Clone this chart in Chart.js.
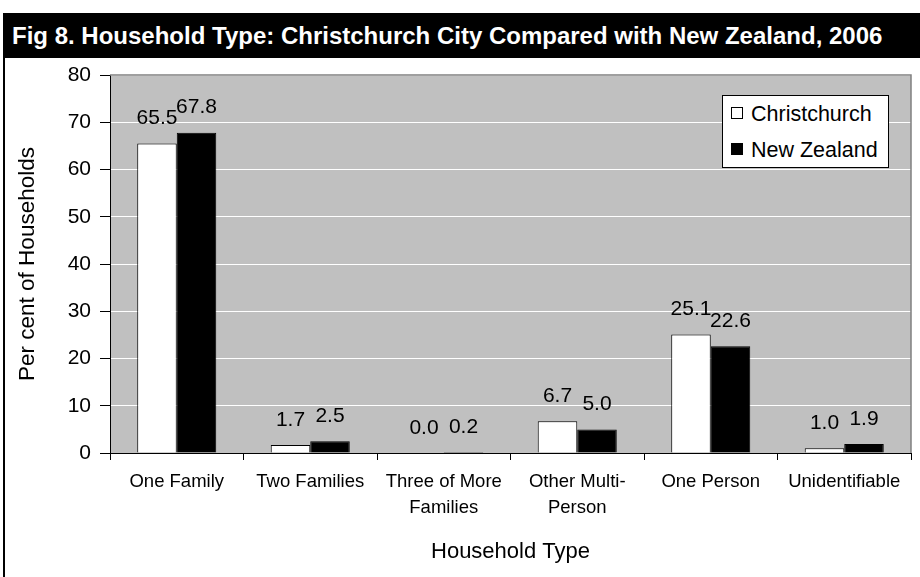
<!DOCTYPE html>
<html>
<head>
<meta charset="utf-8">
<script src="https://cdn.jsdelivr.net/npm/chart.js@4/dist/chart.umd.min.js"></script>
<style>
  html, body { margin: 0; padding: 0; background: #fff; }
  #wrap { position: relative; width: 920px; height: 577px; overflow: hidden; }
  #frameL { position: absolute; left: 3px; top: 13px; width: 2px; height: 600px; background: #000; }
  #title { position: absolute; left: 3px; top: 13px; width: 917px; height: 45px; background: #000; color: #fff;
           font: bold 24px "Liberation Sans", Arial, sans-serif; line-height: 45px; padding-left: 9px; box-sizing: border-box; white-space: nowrap; z-index: 2; }
  #c { position: absolute; left: 0; top: 0; }
  #legend { position: absolute; left: 722px; top: 95px; width: 167px; height: 73px; background: #fff; border: 1px solid #000;
            box-sizing: border-box; font: 21.5px "Liberation Sans", Arial, sans-serif; color: #000; z-index: 3; }
  .item { position: absolute; left: 8px; height: 24px; line-height: 24px; white-space: nowrap; }
  .sw { display: inline-block; width: 12px; height: 12px; border: 1px solid #000; box-sizing: border-box; vertical-align: middle; margin-right: 8px; position: relative; top: -2px; }
</style>
</head>
<body>
<div id="wrap">
  <div id="frameL"></div>
  <div id="title">Fig 8. Household Type: Christchurch City Compared with New Zealand, 2006</div>
  <canvas id="c" width="920" height="577"></canvas>
  <div id="legend"></div>
</div>
<script>
const categories = ["One Family", "Two Families", ["Three of More", "Families"], ["Other Multi-", "Person"], "One Person", "Unidentifiable"];
const christchurch = [65.5, 1.7, 0.0, 6.7, 25.1, 1.0];
const newZealand = [67.8, 2.5, 0.2, 5.0, 22.6, 1.9];
const seriesNames = ["Christchurch", "New Zealand"];
const yTicks = [0, 10, 20, 30, 40, 50, 60, 70, 80];

const FONT = '"Liberation Sans", Arial, sans-serif';

const bgPlugin = {
  id: 'bg',
  beforeDraw(chart) {
    const {ctx, chartArea: a} = chart;
    ctx.save();
    ctx.fillStyle = '#C0C0C0';
    ctx.fillRect(a.left, a.top, a.right - a.left, a.bottom - a.top);
    ctx.restore();
  },
  afterDraw(chart) {
    const {ctx, chartArea: a} = chart;
    ctx.save();
    ctx.strokeStyle = '#808080';
    ctx.lineWidth = 1.5;
    ctx.beginPath();
    ctx.moveTo(a.left, a.top);
    ctx.lineTo(a.right, a.top);
    ctx.lineTo(a.right, a.bottom);
    ctx.stroke();
    ctx.restore();
  }
};

const labelPlugin = {
  id: 'vlabels',
  afterDatasetsDraw(chart) {
    const {ctx} = chart;
    ctx.save();
    ctx.font = '21px ' + FONT;
    ctx.fillStyle = '#000';
    ctx.textAlign = 'center';
    ctx.textBaseline = 'middle';
    chart.data.datasets.forEach((ds, i) => {
      chart.getDatasetMeta(i).data.forEach((bar, j) => {
        ctx.fillText(ds.data[j].toFixed(1), bar.x, bar.y - 25);
      });
    });
    ctx.restore();
  }
};

const chart = new Chart(document.getElementById('c'), {
  type: 'bar',
  data: {
    labels: categories,
    datasets: [
      { label: seriesNames[0], data: christchurch, backgroundColor: '#FFFFFF', borderColor: '#000', borderWidth: 1 },
      { label: seriesNames[1], data: newZealand, backgroundColor: '#000000', borderColor: '#000', borderWidth: 1 }
    ]
  },
  options: {
    responsive: false,
    animation: false,
    devicePixelRatio: 1,
    layout: { padding: { top: 75, right: 9, left: 0, bottom: 0 } },
    datasets: { bar: { categoryPercentage: 0.592, barPercentage: 1.0 } },
    plugins: { legend: { display: false }, tooltip: { enabled: false }, title: { display: false } },
    scales: {
      x: {
        afterFit(s) { s.height = 124; },
        grid: { display: true, drawOnChartArea: false, offset: true, tickLength: 7, tickColor: '#000', lineWidth: 1 },
        border: { color: '#000', width: 1 },
        ticks: { color: '#000', font: { family: FONT, size: 18.5, lineHeight: 26 / 18.5 }, padding: 9, maxRotation: 0, autoSkip: false },
        title: { display: true, text: 'Household Type', color: '#000', font: { family: FONT, size: 22 }, padding: { top: 0, bottom: 12 } }
      },
      y: {
        min: 0, max: 80,
        afterFit(s) { s.width = 110; },
        afterBuildTicks(s) { s.ticks = yTicks.map(v => ({ value: v })); },
        grid: { color: '#FFFFFF', lineWidth: 1, tickLength: 10, tickColor: '#000' },
        border: { color: '#000', width: 1 },
        ticks: { color: '#000', font: { family: FONT, size: 21 }, padding: 9 },
        title: { display: true, text: 'Per cent of Households', color: '#000', font: { family: FONT, size: 22.5 }, padding: { top: 14, bottom: 0 } }
      }
    }
  },
  plugins: [bgPlugin, labelPlugin]
});

// HTML legend built from the datasets
const leg = document.getElementById('legend');
chart.data.datasets.forEach((ds, i) => {
  const it = document.createElement('div');
  it.className = 'item';
  it.style.top = (6 + i * 36) + 'px';
  const sw = document.createElement('span');
  sw.className = 'sw';
  sw.style.background = ds.backgroundColor;
  it.appendChild(sw);
  it.appendChild(document.createTextNode(ds.label));
  leg.appendChild(it);
});
</script>
</body>
</html>
